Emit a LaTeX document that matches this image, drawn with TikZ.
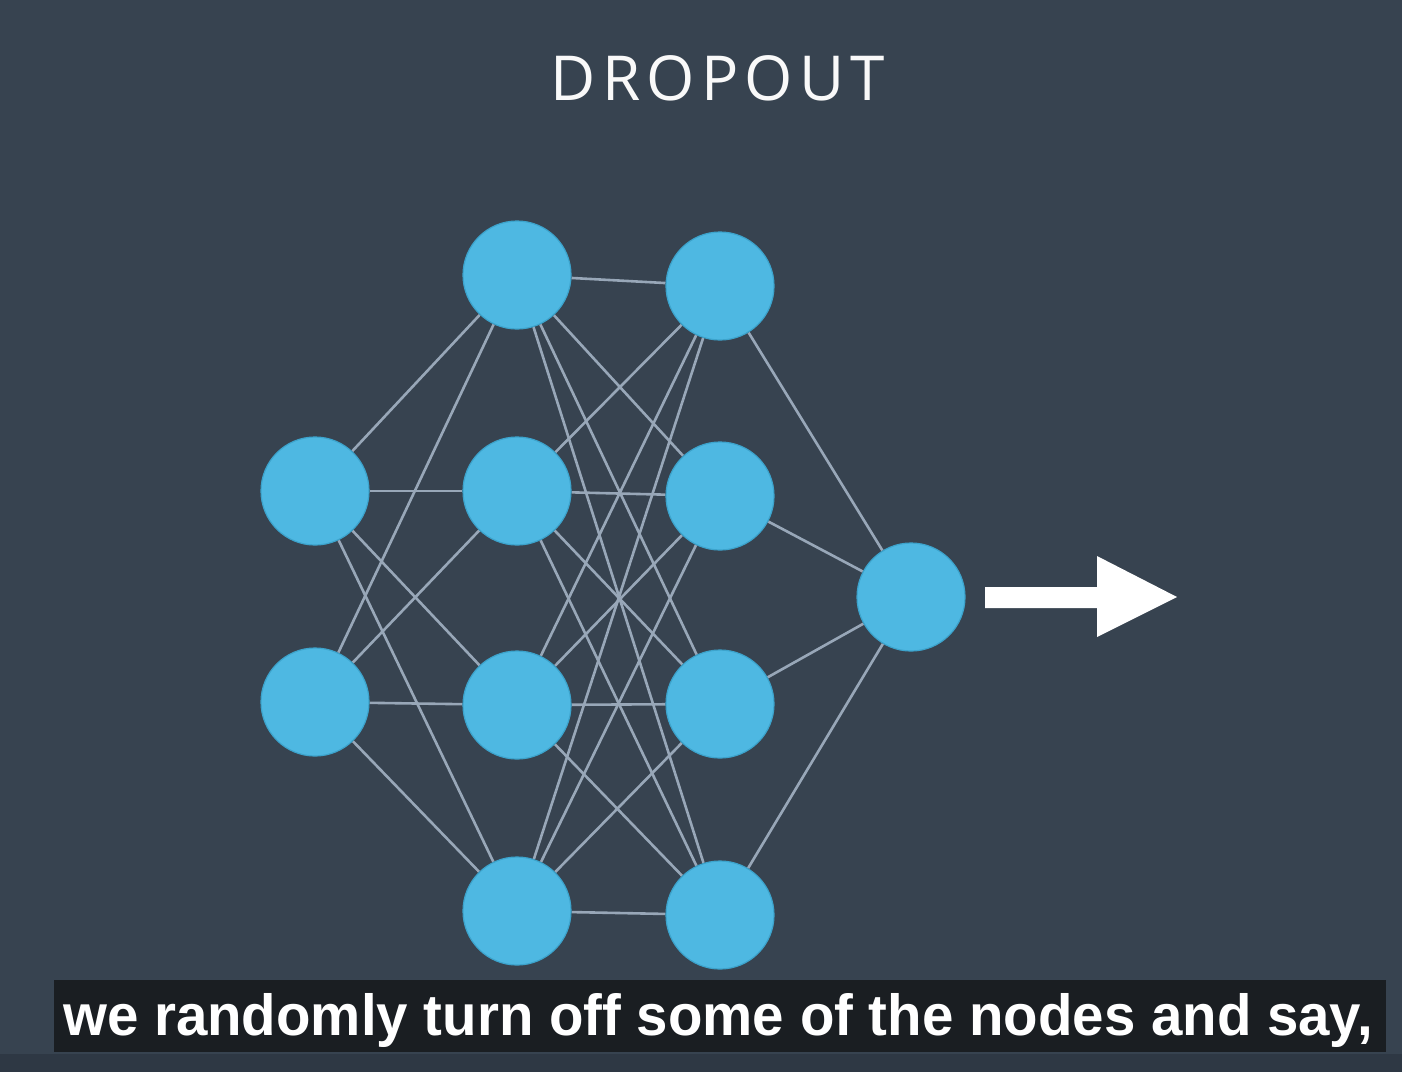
\documentclass[tikz,border=0pt]{standalone}
\usepackage{fontspec}
\newfontfamily\titlefont[LetterSpace=10]{Open Sans}
\newfontfamily\subfont{Liberation Sans}
\definecolor{bgc}{HTML}{374350}
\definecolor{nodefill}{HTML}{4EB8E2}
\definecolor{nodeedge}{HTML}{3CA3CC}
\definecolor{edgec}{HTML}{98A7B8}
\definecolor{barc}{HTML}{1A1E22}
\definecolor{stripc}{HTML}{2E3844}
\pgfdeclarelayer{back}
\pgfdeclarelayer{wires}
\pgfsetlayers{back,wires,main}
\begin{document}
\begin{tikzpicture}[x=1pt,y=-1pt,
  neuron/.style={circle,fill=nodefill,draw=nodeedge,line width=1.2pt,minimum size=108pt,inner sep=0pt},
  wire/.style={draw=edgec,line width=2.6pt}]
\begin{pgfonlayer}{back}
\fill[bgc] (0,0) rectangle (1402,1072);
\fill[stripc] (0,1054) rectangle (1402,1072);
\end{pgfonlayer}
\useasboundingbox (0,0) rectangle (1402,1072);
% title
\node[text=white!95!gray,font=\titlefont\fontsize{62}{70}\selectfont,inner sep=0pt] (title) at (718,78) {DROPOUT};
% nodes
\node[neuron] (i1) at (315,491) {};
\node[neuron] (i2) at (315,702) {};
\node[neuron] (a1) at (517,275) {};
\node[neuron] (a2) at (517,491) {};
\node[neuron] (a3) at (517,705) {};
\node[neuron] (a4) at (517,911) {};
\node[neuron] (b1) at (720,286) {};
\node[neuron] (b2) at (720,496) {};
\node[neuron] (b3) at (720,704) {};
\node[neuron] (b4) at (720,915) {};
\node[neuron] (o) at (911,597) {};
\begin{pgfonlayer}{wires}
\foreach \i in {i1,i2} \foreach \j in {a1,a2,a3,a4} \draw[wire] (\i) -- (\j);
\foreach \i in {a1,a2,a3,a4} \foreach \j in {b1,b2,b3,b4} \draw[wire] (\i) -- (\j);
\foreach \i in {b1,b2,b3,b4} \draw[wire] (\i) -- (o);
\end{pgfonlayer}
% output arrow
\coordinate (tail) at (985,597);
\coordinate (tip) at (1177,597);
\fill[white] (985,587) -- (1097,587) -- (1097,556) -- (tip) -- (1097,637) -- (1097,608) -- (985,608) -- cycle;
% subtitle bar
\node[fill=barc,minimum width=1332pt,minimum height=72pt,inner sep=0pt] (bar) at (720,1016) {};
\node[text=white,font=\subfont\bfseries\fontsize{58}{60}\selectfont,inner sep=0pt,xscale=0.973,anchor=base] (sub) at (718,1035) {we randomly turn off some of the nodes and say,};
\end{tikzpicture}
\end{document}
